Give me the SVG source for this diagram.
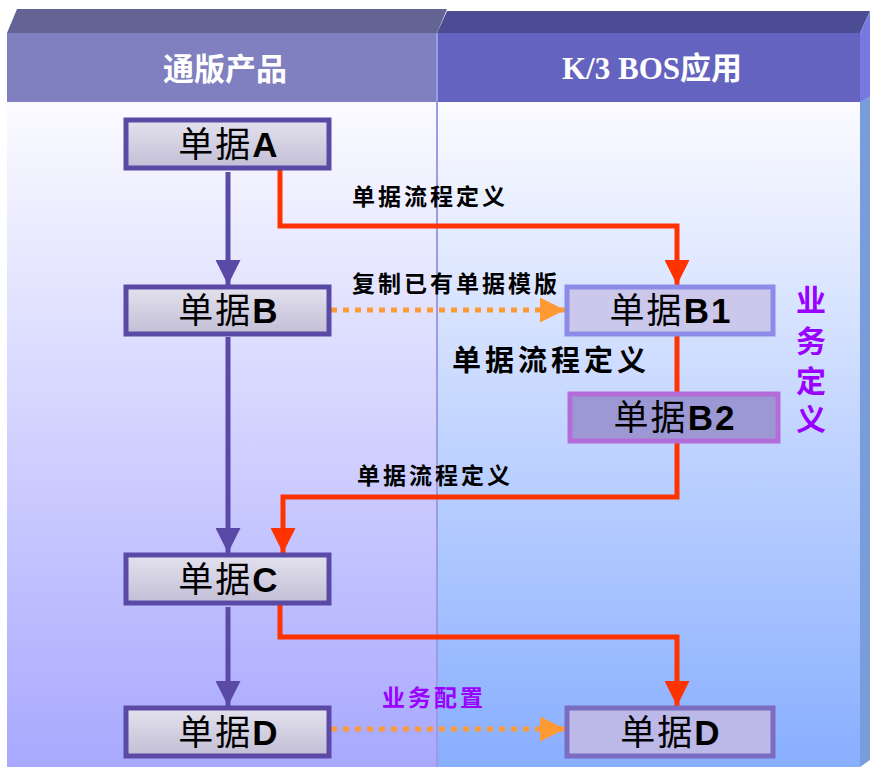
<svg xmlns="http://www.w3.org/2000/svg" width="870" height="769" viewBox="0 0 870 769">
<defs>
<linearGradient id="gl" x1="0" y1="0" x2="0" y2="1"><stop offset="0" stop-color="#FBFBFF"/><stop offset="1" stop-color="#A8A8FF"/></linearGradient>
<linearGradient id="gr" x1="0" y1="0" x2="0" y2="1"><stop offset="0" stop-color="#FBFBFF"/><stop offset="1" stop-color="#88AEFF"/></linearGradient>
<linearGradient id="gn" x1="0" y1="0" x2="0" y2="1"><stop offset="0" stop-color="#E4E2EE"/><stop offset="1" stop-color="#C2BED6"/></linearGradient>
<marker id="ap" viewBox="0 0 10 10" refX="10" refY="5" markerWidth="5" markerHeight="5" markerUnits="strokeWidth" orient="auto"><path d="M0,0 L10,5 L0,10 z" fill="#5A4AA6"/></marker>
<marker id="ar" viewBox="0 0 10 10" refX="10" refY="5" markerWidth="5" markerHeight="5" markerUnits="strokeWidth" orient="auto"><path d="M0,0 L10,5 L0,10 z" fill="#FF3300"/></marker>
<marker id="ao" viewBox="0 0 10 10" refX="10" refY="5" markerWidth="5" markerHeight="5" markerUnits="strokeWidth" orient="auto"><path d="M0,0 L10,5 L0,10 z" fill="#FF9933"/></marker>
</defs>
<style>
.hd{font-family:"Liberation Serif","Noto Sans CJK SC",serif;font-weight:bold;font-size:31px;fill:#FFFFFF;text-anchor:middle}
.nt{font-family:"Liberation Sans","Noto Sans CJK SC",sans-serif;font-size:35px;letter-spacing:2px;fill:#000;text-anchor:middle}
.nt tspan{font-weight:bold}
.lb{font-family:"Liberation Sans","Noto Sans CJK SC",sans-serif;font-weight:bold;font-size:23px;letter-spacing:3px;fill:#000}
.pu{fill:#9900FF}
.cp{fill:none;stroke:#5A4AA6;stroke-width:5}
.cr{fill:none;stroke:#FF3300;stroke-width:5}
.co{fill:none;stroke:#FF9933;stroke-width:5;stroke-dasharray:6 6}
</style>
<rect width="870" height="769" fill="#FFFFFF"/>
<g id="panels">
<polygon points="7,33 17,9 447,9 437,33" fill="#646494"/>
<polygon points="437,33 447,11 870,11 860,33" fill="#4C4C94"/>
<rect x="7" y="33" width="430" height="69" fill="#8080C0"/>
<rect x="437" y="33" width="423" height="69" fill="#6464C0"/>
<polygon points="860,33 870,11 870,102 860,102" fill="#7878E0"/>
<rect x="7" y="102" width="430" height="665" fill="url(#gl)"/>
<rect x="437" y="102" width="423" height="665" fill="url(#gr)"/>
<polygon points="860,102 870,96 870,760 860,767" fill="#789CDC"/>
<line x1="437" y1="33" x2="437" y2="767" stroke="#9C9CE4" stroke-width="2"/>
<text class="hd" x="225" y="80">通版产品</text>
<text class="hd" x="652" y="79">K/3 BOS应用</text>
</g>
<g id="connectors">
<line class="cp" x1="228" y1="172" x2="228" y2="285" marker-end="url(#ap)"/>
<line class="cp" x1="228" y1="337" x2="228" y2="553" marker-end="url(#ap)"/>
<line class="cp" x1="228" y1="607" x2="228" y2="706" marker-end="url(#ap)"/>
<polyline class="cr" points="280,170 280,226 677,226 677,285" marker-end="url(#ar)"/>
<line class="cr" x1="677" y1="335" x2="677" y2="394"/>
<polyline class="cr" points="677,441 677,497 283,497 283,553" marker-end="url(#ar)"/>
<polyline class="cr" points="280,605 280,637 677,637 677,706" marker-end="url(#ar)"/>
<line class="co" x1="331" y1="310" x2="565" y2="310" marker-end="url(#ao)"/>
<line class="co" x1="331" y1="729" x2="565" y2="729" marker-end="url(#ao)"/>
<text class="lb" x="352" y="205">单据流程定义</text>
<text class="lb" x="352" y="292">复制已有单据模版</text>
<text class="lb" x="452" y="371" style="font-size:29px;letter-spacing:4px">单据流程定义</text>
<text class="lb" x="357" y="484">单据流程定义</text>
<text class="lb pu" x="382" y="706">业务配置</text>
</g>
<g id="nodeA"><rect x="126" y="120" width="203" height="48" fill="url(#gn)" stroke="#5A4AA6" stroke-width="5"/><text class="nt" x="229" y="157">单据<tspan>A</tspan></text></g>
<g id="nodeB"><rect x="126" y="287" width="203" height="47" fill="url(#gn)" stroke="#5A4AA6" stroke-width="5"/><text class="nt" x="229" y="323">单据<tspan>B</tspan></text></g>
<g id="nodeC"><rect x="126" y="555" width="203" height="48" fill="url(#gn)" stroke="#5A4AA6" stroke-width="5"/><text class="nt" x="229" y="592">单据<tspan>C</tspan></text></g>
<g id="nodeD1"><rect x="126" y="708" width="203" height="48" fill="url(#gn)" stroke="#5A4AA6" stroke-width="5"/><text class="nt" x="229" y="745">单据<tspan>D</tspan></text></g>
<g id="nodeB1"><rect x="567" y="287" width="206" height="47" fill="#CCC8EC" stroke="#8C8CE8" stroke-width="5"/><text class="nt" x="671" y="323">单据<tspan>B1</tspan></text></g>
<g id="nodeB2"><rect x="570" y="394" width="208" height="47" fill="#9C98D4" stroke="#B46CD8" stroke-width="5"/><text class="nt" x="675" y="430">单据<tspan>B2</tspan></text></g>
<g id="nodeD2"><rect x="567" y="708" width="206" height="48" fill="#BCB8E8" stroke="#7A6CC0" stroke-width="5"/><text class="nt" x="671" y="745">单据<tspan>D</tspan></text></g>
<g id="sideLabel" class="lb pu" style="font-size:30px;letter-spacing:0;text-anchor:middle">
<text x="811" y="311">业</text>
<text x="811" y="352">务</text>
<text x="811" y="392">定</text>
<text x="811" y="430">义</text>
</g>
</svg>
